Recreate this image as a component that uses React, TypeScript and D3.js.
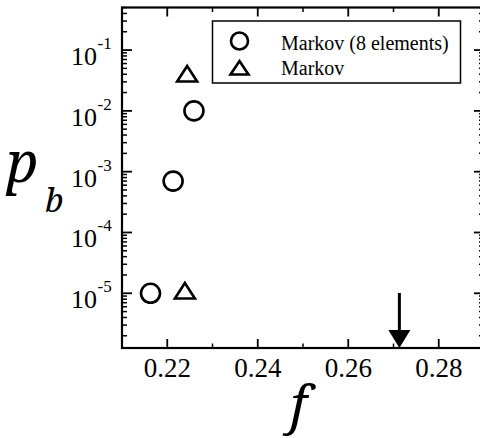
import React from 'react';
import * as d3 from 'd3';

// Markov (8 elements) - circles
const circleF = [0.2163, 0.2213, 0.2259];
const circleP = [1e-5, 7e-4, 1e-2];
// Markov - triangles
const triF = [0.2239, 0.2244];
const triP = [1e-5, 0.037];

const xTicks = [0.22, 0.24, 0.26, 0.28];
const xMinor = [0.21, 0.23, 0.25, 0.27, 0.29];
const yExps = [-1, -2, -3, -4, -5];
const legendLabels = ['Markov (8 elements)', 'Markov'];
const arrowF = 0.2713;

const W = 480, H = 438;
const L = 122, R = 484, T = 7.5, B = 348;
const serif = { fontFamily: 'Liberation Serif' };
// no Liberation Serif Italic here; Noto Serif italic is the closest match
const serifI = { fontFamily: 'Noto Serif', fontStyle: 'italic' };

function triPath(cx: number, cy: number, w: number, h: number) {
  const p = d3.path();
  p.moveTo(cx, cy - (2 * h) / 3);
  p.lineTo(cx + w / 2, cy + h / 3);
  p.lineTo(cx - w / 2, cy + h / 3);
  p.closePath();
  return p.toString();
}

export default function App() {
  const x = d3.scaleLinear().domain([0.21, 0.29]).range([L, R]);
  const y = d3.scaleLog().domain([Math.pow(10, -5.9), Math.pow(10, -0.3)]).range([B, T]);

  const [y0, y1] = y.domain();
  const minorY: number[] = [];
  for (let e = -6; e <= 0; e++) {
    for (let m = 2; m <= 9; m++) {
      const v = m * Math.pow(10, e);
      if (v > y0 && v < y1) minorY.push(v);
    }
  }

  const ax = x(arrowF);

  return (
    <svg width={W} height={H} style={{ position: 'absolute', left: 0, top: 0 }}>
      <rect x={0} y={0} width={W} height={H} fill="#fff" />
      {/* frame */}
      <rect x={L} y={T} width={R - L} height={B - T} fill="none" stroke="#000" strokeWidth={2.2} />
      {/* y ticks */}
      {yExps.map((e) => {
        const yy = y(Math.pow(10, e));
        return (
          <g key={'ym' + e}>
            <line x1={L} x2={L + 10} y1={yy} y2={yy} stroke="#000" strokeWidth={1.8} />
            <line x1={R} x2={R - 10} y1={yy} y2={yy} stroke="#000" strokeWidth={1.8} />
            <text x={97} y={yy + 15} textAnchor="end" style={serif} fontSize={26}>10</text>
            <text x={97.5} y={yy - 1} style={serif} fontSize={17}>{'-' + Math.abs(e)}</text>
          </g>
        );
      })}
      {minorY.map((v, i) => (
        <g key={'yn' + i}>
          <line x1={L} x2={L + 5} y1={y(v)} y2={y(v)} stroke="#000" strokeWidth={1.5} />
          <line x1={R} x2={R - 5} y1={y(v)} y2={y(v)} stroke="#000" strokeWidth={1.5} />
        </g>
      ))}
      {/* x ticks */}
      {xTicks.map((t) => (
        <g key={'xt' + t}>
          <line x1={x(t)} x2={x(t)} y1={B} y2={B - 9} stroke="#000" strokeWidth={1.8} />
          <line x1={x(t)} x2={x(t)} y1={T} y2={T + 9} stroke="#000" strokeWidth={1.8} />
          <text x={x(t)} y={377} textAnchor="middle" style={serif} fontSize={27}>{t.toFixed(2)}</text>
        </g>
      ))}
      {xMinor.map((t) => (
        <g key={'xn' + t}>
          <line x1={x(t)} x2={x(t)} y1={B} y2={B - 4.5} stroke="#000" strokeWidth={1.5} />
          <line x1={x(t)} x2={x(t)} y1={T} y2={T + 4.5} stroke="#000" strokeWidth={1.5} />
        </g>
      ))}
      {/* axis titles */}
      <text x={6} y={182} style={serifI} fontSize={56}>p</text>
      <text x={45} y={212} style={serifI} fontSize={33}>b</text>
      <text x={290} y={423} style={serifI} fontSize={53}>f</text>
      {/* data */}
      {circleF.map((f, i) => (
        <circle key={'c' + i} cx={x(f)} cy={y(circleP[i])} r={9.5} fill="none" stroke="#000" strokeWidth={2.6} />
      ))}
      {triF.map((f, i) => (
        <path key={'t' + i} d={triPath(x(f), y(triP[i]), 20, 15.5)} fill="none" stroke="#000" strokeWidth={2.6} strokeLinejoin="miter" />
      ))}
      {/* arrow */}
      <line x1={ax} x2={ax} y1={293} y2={332} stroke="#000" strokeWidth={3} />
      <path d={`M${ax - 11},330 L${ax + 11},330 L${ax},${B} Z`} fill="#000" />
      {/* legend */}
      <rect x={212.5} y={21} width={248} height={62} fill="#fff" stroke="#000" strokeWidth={1.5} />
      <circle cx={239.5} cy={41} r={8.5} fill="none" stroke="#000" strokeWidth={2.6} />
      <path d={triPath(239.5, 70, 18, 13.5)} fill="none" stroke="#000" strokeWidth={2.6} />
      {legendLabels.map((s, i) => (
        <text key={s} x={281} y={50 + i * 25} style={serif} fontSize={20}>{s}</text>
      ))}
    </svg>
  );
}
